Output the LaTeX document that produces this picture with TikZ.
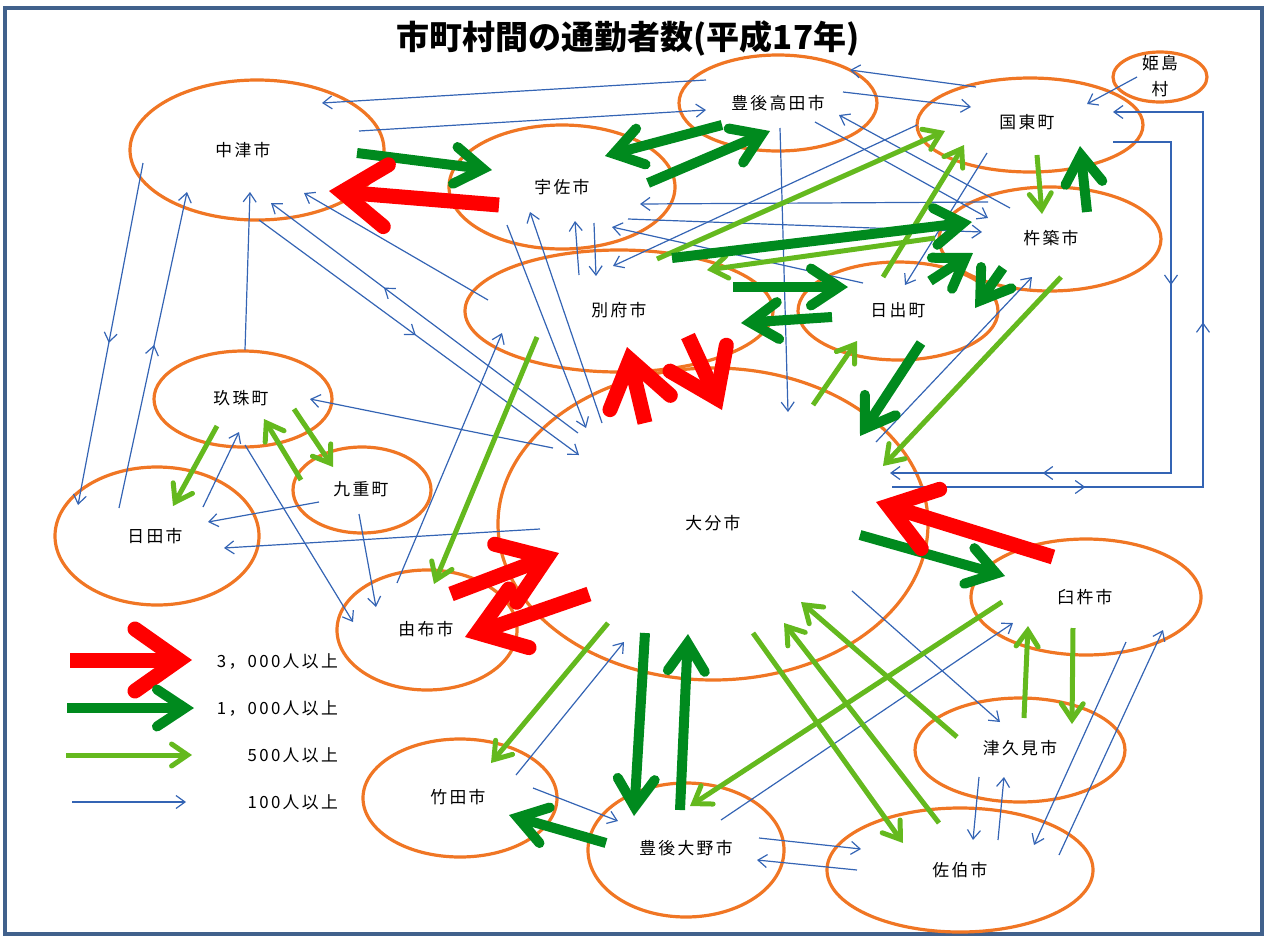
\documentclass[tikz,border=0pt]{standalone}
\usepackage{fontspec}
\setmainfont{Noto Sans CJK JP}
\newfontfamily\labfont[LetterSpace=14]{Noto Sans CJK JP}
\usetikzlibrary{arrows.meta,shapes.geometric,decorations.markings}
\definecolor{frameC}{RGB}{65,97,140}
\definecolor{orangeC}{RGB}{240,118,36}
\definecolor{blueC}{RGB}{52,100,180}
\definecolor{dgreenC}{RGB}{0,138,30}
\definecolor{lgreenC}{RGB}{100,185,30}
\definecolor{redC}{RGB}{255,0,0}
\tikzset{
  city/.style={ellipse, draw=orangeC, line width=3.2pt, inner sep=0pt},
  lab/.style={font=\labfont\fontsize{16.8}{18}\selectfont, inner sep=0pt, text=black},
  c100/.style={color=blueC, line width=1.2pt, -{Straight Barb[length=9pt,width=13pt]}},
  c500/.style={color=lgreenC, line width=5pt, -{Straight Barb[length=16pt,width=22pt,line cap=round,line join=miter]}},
  c1000/.style={color=dgreenC, line width=10pt, -{Straight Barb[length=28pt,width=37pt,line cap=round,line join=miter]}},
  c3000/.style={color=redC, line width=15pt, -{Straight Barb[length=44pt,width=62pt,line cap=round,line join=miter]}},
  mid/.style={postaction={decorate,decoration={markings,mark=at position #1 with {\arrow{Straight Barb[length=9pt,width=13pt]}}}}},
}
\begin{document}
\begin{tikzpicture}[x=1pt,y=-1pt]
\useasboundingbox (0,0) rectangle (1267,938);
\node[draw=frameC, line width=4pt, minimum width=1257pt, minimum height=926pt, inner sep=0pt] (frame) at (633.5,471) {};
\node[font=\bfseries\fontsize{33}{35}\selectfont, inner sep=0pt] (title) at (628,38) {市町村間の通勤者数(平成17年)};

% cities
\node[city, minimum width=254pt, minimum height=140pt] (nakatsu) at (257,150) {};
\node[city, minimum width=226pt, minimum height=124pt] (usa) at (562,187) {};
\node[city, minimum width=198pt, minimum height=96pt] (takada) at (778,103) {};
\node[city, minimum width=226pt, minimum height=94pt] (kunisaki) at (1030,125) {};
\node[city, minimum width=94pt, minimum height=50pt] (himeshima) at (1160,77) {};
\node[city, minimum width=222pt, minimum height=104pt] (kitsuki) at (1050,239) {};
\node[city, minimum width=200pt, minimum height=98pt] (hiji) at (898,311) {};
\node[city, minimum width=308pt, minimum height=122pt] (beppu) at (619,311) {};
\node[city, minimum width=430pt, minimum height=312pt] (oita) at (713,524) {};
\node[city, minimum width=178pt, minimum height=96pt] (kusu) at (243,399) {};
\node[city, minimum width=138pt, minimum height=86pt] (kokonoe) at (362,490) {};
\node[city, minimum width=204pt, minimum height=138pt] (hita) at (157,536) {};
\node[city, minimum width=180pt, minimum height=120pt] (yufu) at (427,630) {};
\node[city, minimum width=194pt, minimum height=118pt] (taketa) at (460,798) {};
\node[city, minimum width=196pt, minimum height=134pt] (bono) at (686,850) {};
\node[city, minimum width=266pt, minimum height=124pt] (saiki) at (960,870) {};
\node[city, minimum width=210pt, minimum height=104pt] (tsukumi) at (1020,750) {};
\node[city, minimum width=230pt, minimum height=116pt] (usuki) at (1086,597) {};

% 100
\draw[c100] (706,80) -- (322,103);
\draw[c100] (359,131) -- (706,110);
\draw[c100, mid=0.526] (143,163) -- (78,505);
\draw[c100, mid=0.516] (119,508) -- (187,192);
\draw[c100, mid=0.30, mid=0.772] (1113,142) -- (1171,142) -- (1171,473) -- (890,473);
\draw[c100, mid=0.249, mid=0.613] (892,487) -- (1203,487) -- (1203,112) -- (1113,112);
\draw[c100] (1137,77) -- (1087,104);
\draw[c100] (976,87) -- (850,70);
\draw[c100] (843,92) -- (971,107);
\draw[c100] (1010,208) -- (839,115);
\draw[c100] (815,122) -- (988,218);
\draw[c100] (780,128) -- (788,412);
\draw[c100] (988,202) -- (640,204);
\draw[c100] (628,219) -- (982,232);
\draw[c100] (863,283) -- (612,227);
\draw[c100] (917,125) -- (613,266);
\draw[c100] (987,153) -- (905,285);
\draw[c100] (579,275) -- (575,221);
\draw[c100] (594,223) -- (596,276);
\draw[c100] (507,225) -- (586,428);
\draw[c100] (602,423) -- (530,212);
\draw[c100] (488,300) -- (304,193);
\draw[c100, mid=0.632] (578,433) -- (271,203);
\draw[c100, mid=0.49] (259,220) -- (579,455);
\draw[c100] (245,350) -- (250,192);
\draw[c100] (553,448) -- (310,399);
\draw[c100] (397,583) -- (502,333);
\draw[c100] (245,445) -- (353,622);
\draw[c100] (203,507) -- (239,432);
\draw[c100] (319,502) -- (208,522);
\draw[c100] (540,529) -- (224,548);
\draw[c100] (359,514) -- (376,607);
\draw[c100] (516,775) -- (624,642);
\draw[c100] (533,788) -- (618,821);
\draw[c100] (721,820) -- (1013,623);
\draw[c100] (759,838) -- (861,849);
\draw[c100] (857,870) -- (757,860);
\draw[c100] (852,591) -- (1000,722);
\draw[c100] (979,777) -- (973,840);
\draw[c100] (998,840) -- (1004,777);
\draw[c100] (1126,642) -- (1034,845);
\draw[c100] (1059,855) -- (1163,630);
\draw[c100] (876,442) -- (1032,277);

% 500
\draw[c500] (657,259) -- (945,131);
\draw[c500] (883,277) -- (964,145);
\draw[c500] (935,238) -- (707,270);
\draw[c500] (1037,155) -- (1042,214);
\draw[c500] (1061,277) -- (883,466);
\draw[c500] (813,405) -- (857,341);
\draw[c500] (217,426) -- (173,506);
\draw[c500] (301,480) -- (264,419);
\draw[c500] (294,409) -- (333,467);
\draw[c500] (537,337) -- (434,584);
\draw[c500] (608,623) -- (491,763);
\draw[c500] (1002,602) -- (690,806);
\draw[c500] (753,633) -- (903,843);
\draw[c500] (939,823) -- (784,623);
\draw[c500] (957,737) -- (801,602);
\draw[c500] (1024,718) -- (1028,626);
\draw[c500] (1073,628) -- (1072,724);

% 1000
\draw[c1000] (357,153) -- (492,170);
\draw[c1000] (722,125) -- (605,156);
\draw[c1000] (648,183) -- (770,131);
\draw[c1000] (672,258) -- (972,222);
\draw[c1000] (733,287) -- (848,287);
\draw[c1000] (832,317) -- (741,323);
\draw[c1000] (930,281) -- (973,253);
\draw[c1000] (1003,268) -- (975,308);
\draw[c1000] (1087,212) -- (1080,146);
\draw[c1000] (921,343) -- (860,436);
\draw[c1000] (860,535) -- (1005,576);
\draw[c1000] (645,633) -- (634,816);
\draw[c1000] (680,810) -- (688,634);
\draw[c1000] (606,843) -- (509,815);

% 3000
\draw[c3000] (499,205) -- (329,191);
\draw[c3000] (688,336) -- (722,410);
\draw[c3000] (645,423) -- (627,347);
\draw[c3000] (589,594) -- (465,637);
\draw[c3000] (451,594) -- (559,553);
\draw[c3000] (1053,557) -- (876,502);

% labels
\node[lab] (nakatsuL) at (243,150) {中津市};
\node[lab] (usaL) at (562,187) {宇佐市};
\node[lab] (takadaL) at (778,103) {豊後高田市};
\node[lab] (kunisakiL) at (1027,122) {国東町};
\node[lab] (himeL1) at (1160,63) {姫島};
\node[lab] (himeL2) at (1160,89) {村};
\node[lab] (kitsukiL) at (1051,238) {杵築市};
\node[lab] (hijiL) at (898,310) {日出町};
\node[lab] (beppuL) at (619,310) {別府市};
\node[lab] (oitaL) at (713,523) {大分市};
\node[lab] (kusuL) at (241,398) {玖珠町};
\node[lab] (kokonoeL) at (361,489) {九重町};
\node[lab] (hitaL) at (155,536) {日田市};
\node[lab] (yufuL) at (426,629) {由布市};
\node[lab] (taketaL) at (458,797) {竹田市};
\node[lab] (bonoL) at (686,848) {豊後大野市};
\node[lab] (saikiL) at (960,870) {佐伯市};
\node[lab] (tsukumiL) at (1020,748) {津久見市};
\node[lab] (usukiL) at (1085,597) {臼杵市};

% legend
\coordinate (l1a) at (70,660); \coordinate (l1b) at (192,660);
\coordinate (l2a) at (67,708); \coordinate (l2b) at (194,708);
\coordinate (l3a) at (66,755); \coordinate (l3b) at (192,755);
\coordinate (l4a) at (72,802); \coordinate (l4b) at (186,802);
\draw[c3000] (l1a) -- (l1b);
\draw[c1000] (l2a) -- (l2b);
\draw[c500] (l3a) -- (l3b);
\draw[c100] (l4a) -- (l4b);
\node[lab, anchor=east] (leg1) at (338,661) {3，000人以上};
\node[lab, anchor=east] (leg2) at (338,708) {1，000人以上};
\node[lab, anchor=east] (leg3) at (338,755) {500人以上};
\node[lab, anchor=east] (leg4) at (338,802) {100人以上};
\end{tikzpicture}
\end{document}
